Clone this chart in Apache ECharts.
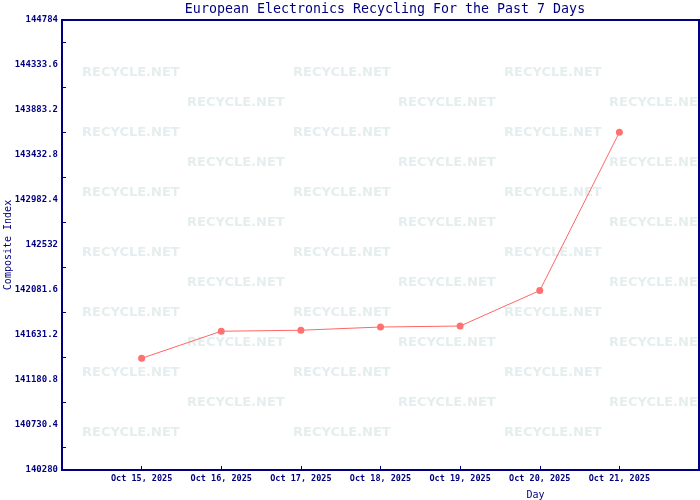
<!DOCTYPE html>
<html>
<head>
<meta charset="utf-8">
<script src="https://cdn.jsdelivr.net/npm/echarts@6/dist/echarts.min.js"></script>
<style>
  html, body { margin: 0; padding: 0; background: #fff; }
  #chart { width: 700px; height: 500px; }
</style>
</head>
<body>
<div id="chart"></div>
<script>
// data
const days = ['Oct 15, 2025', 'Oct 16, 2025', 'Oct 17, 2025', 'Oct 18, 2025', 'Oct 19, 2025', 'Oct 20, 2025', 'Oct 21, 2025']
const composite = [141398, 141669, 141679, 141711, 141721, 142076, 143660]
const yMin = 140280
const yMax = 144784
const yStep = 450.4

const navy = '#000080'
const mono = '"DejaVu Sans Mono", monospace'

// padded categories so the 7 days sit on 8 equal gaps
const cats = [''].concat(days, [''])
const vals = [null].concat(composite, [null])

// background watermark
const marks = []
for (let r = 0; r < 13; r++) {
  const y = 73 + r * 30
  const x0 = r % 2 === 0 ? 82 : 187
  for (let x = x0; x < 700; x += 211) {
    marks.push({
      type: 'text', left: x, top: y - 7, z: -1, silent: true,
      style: { text: 'RECYCLE.NET', fill: '#e5eeee', font: 'bold 13px "DejaVu Sans", sans-serif' }
    })
  }
}

const chart = echarts.init(document.getElementById('chart'))
chart.setOption({
  animation: false,
  graphic: marks,
  title: {
    text: 'European Electronics Recycling For the Past 7 Days',
    left: 380, top: -2, textAlign: 'center',
    textStyle: { color: navy, fontFamily: mono, fontSize: 13.3, fontWeight: 'normal' }
  },
  grid: {
    left: 62, right: 1, top: 20, bottom: 30,
    outerBoundsMode: 'none',
    containLabel: false,
    show: true, borderColor: navy, borderWidth: 2, backgroundColor: 'transparent'
  },
  xAxis: {
    type: 'category',
    data: cats,
    boundaryGap: false,
    name: 'Day',
    nameLocation: 'middle',
    nameGap: 20,
    nameMoveOverlap: false,
    nameTextStyle: { color: navy, fontFamily: mono, fontSize: 10, padding: [0, 0, 0, 310] },
    axisLine: { lineStyle: { color: navy, width: 2 } },
    axisTick: { inside: true, length: 4, lineStyle: { color: navy }, interval: (i) => i > 0 && i < cats.length - 1 },
    axisLabel: { color: navy, fontFamily: mono, fontSize: 8.5, fontWeight: 'bold', margin: 4, interval: 0 },
    splitLine: { show: false }
  },
  yAxis: {
    type: 'value',
    min: yMin, max: yMax, interval: yStep,
    name: 'Composite Index',
    nameLocation: 'middle',
    nameGap: 49,
    nameMoveOverlap: false,
    nameTextStyle: { color: navy, fontFamily: mono, fontSize: 10 },
    axisLine: { show: true, lineStyle: { color: navy, width: 2 } },
    axisTick: { inside: true, length: 4, lineStyle: { color: navy } },
    minorTick: { show: true, splitNumber: 2, length: 4, lineStyle: { color: navy } },
    axisLabel: {
      color: navy, fontFamily: mono, fontSize: 9, fontWeight: 'bold', margin: 4,
      formatter: (v) => String(Math.round(v * 10) / 10)
    },
    splitLine: { show: false }
  },
  series: [{
    type: 'line',
    data: vals,
    connectNulls: false,
    symbol: 'circle',
    symbolSize: 7,
    lineStyle: { color: '#ff6666', width: 1 },
    itemStyle: { color: '#ff7070' }
  }]
})
</script>
</body>
</html>
